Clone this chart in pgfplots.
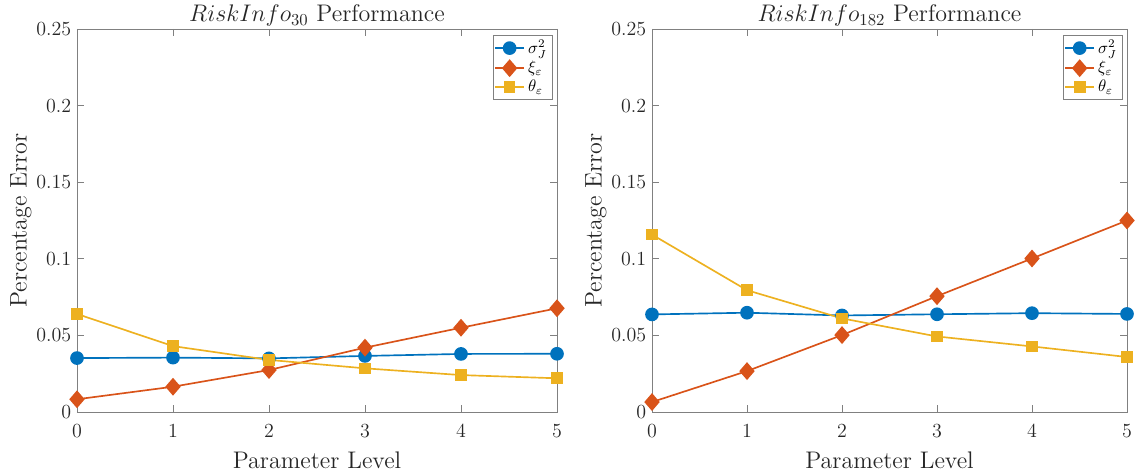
\documentclass[border=0pt]{standalone}
\usepackage{pgfplots}
\pgfplotsset{compat=1.18}
\definecolor{mblue}{rgb}{0,0.447,0.741}
\definecolor{mred}{rgb}{0.85,0.325,0.098}
\definecolor{myel}{rgb}{0.929,0.694,0.125}
\definecolor{axgray}{rgb}{0.5,0.5,0.5}
\pgfplotsset{
  mystyle/.style={
    scale only axis, width=288pt, height=229.8pt,
    xmin=0, xmax=5, ymin=0, ymax=0.25,
    xtick={0,1,2,3,4,5},
    ytick={0,0.05,0.1,0.15,0.2,0.25},
    yticklabels={0,0.05,0.1,0.15,0.2,0.25},
    tick align=inside, tick pos=both,
    major tick length=4pt,
    axis line style={axgray},
    every tick/.style={axgray},
    tick label style={font=\large, text=black!85},
    xticklabel style={yshift=-4pt},
    label style={font=\Large, text=black!85},
    title style={font=\Large, text=black!85, yshift=-8pt},
    xlabel={Parameter Level},
    ylabel={Percentage Error},
    xlabel style={yshift=-2pt},
    ylabel style={yshift=-4pt},
    legend style={at={(0.99,0.985)}, anchor=north east, font=\normalsize, draw=axgray, inner sep=1pt, row sep=-1pt},
    legend cell align=left,
    every axis plot/.append style={line width=1pt},
  }
}
\begin{document}
\begin{tikzpicture}
\path[use as bounding box] (-46.2pt,-38.4pt) rectangle (636pt,247.2pt);
\begin{axis}[mystyle, title={$RiskInfo_{30}$ Performance}]
\addplot[mblue, mark=*, mark size=3.6pt] coordinates {(0,0.0352) (1,0.0355) (2,0.0350) (3,0.0366) (4,0.0379) (5,0.0380)};
\addplot[mred, mark=diamond*, mark size=4.6pt, mark options={xscale=1.15}] coordinates {(0,0.0083) (1,0.0165) (2,0.0274) (3,0.0420) (4,0.0550) (5,0.0677)};
\addplot[myel, mark=square*, mark size=3pt] coordinates {(0,0.0640) (1,0.0430) (2,0.0340) (3,0.0285) (4,0.0241) (5,0.0220)};
\legend{$\sigma_J^2$, $\xi_\varepsilon$, $\theta_\varepsilon$}
\end{axis}
\begin{axis}[mystyle, width=285pt, at={(345pt,0pt)}, title={$RiskInfo_{182}$ Performance}]
\addplot[mblue, mark=*, mark size=3.6pt] coordinates {(0,0.0637) (1,0.0648) (2,0.0630) (3,0.0638) (4,0.0645) (5,0.0640)};
\addplot[mred, mark=diamond*, mark size=4.6pt, mark options={xscale=1.15}] coordinates {(0,0.0065) (1,0.0267) (2,0.0502) (3,0.0756) (4,0.1002) (5,0.1250)};
\addplot[myel, mark=square*, mark size=3pt] coordinates {(0,0.1158) (1,0.0795) (2,0.0611) (3,0.0493) (4,0.0428) (5,0.0359)};
\legend{$\sigma_J^2$, $\xi_\varepsilon$, $\theta_\varepsilon$}
\end{axis}
\end{tikzpicture}
\end{document}
